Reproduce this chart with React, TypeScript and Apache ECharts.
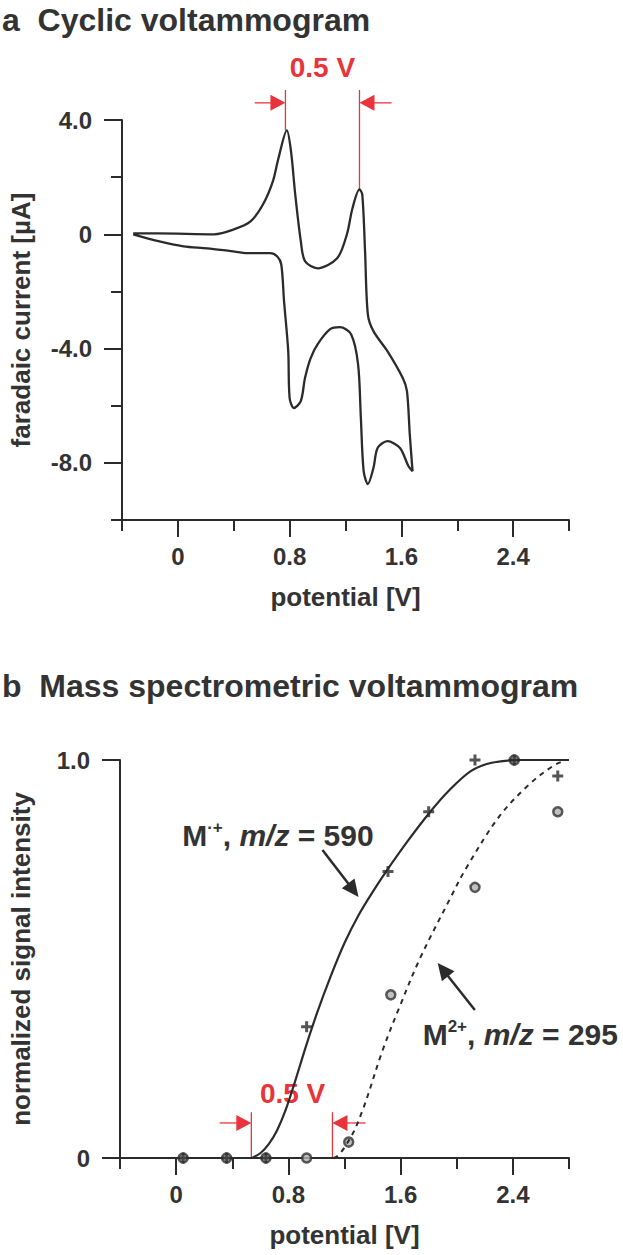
import React, { useEffect, useRef } from 'react';
import * as echarts from 'echarts';

// ---------- data ----------
// (a) cyclic voltammogram: potential [V] and faradaic current [µA], in scan order
const cvPotential = [-0.32, -0.14, 0.26, 0.40, 0.52, 0.61, 0.68, 0.72, 0.78, 0.81, 0.84, 0.88, 0.91, 1.00, 1.14, 1.21, 1.25, 1.30, 1.32, 1.34, 1.36, 1.40, 1.50, 1.61, 1.64, 1.66, 1.68, 1.65, 1.59, 1.50, 1.43, 1.40, 1.36, 1.33, 1.31, 1.29, 1.24, 1.16, 1.09, 1.00, 0.95, 0.91, 0.88, 0.83, 0.80, 0.79, 0.76, 0.74, 0.71, 0.66, 0.50, 0.38, 0.21, 0.04, -0.14, -0.32];
const cvCurrent = [0.03, 0.03, 0.0, 0.17, 0.45, 1.05, 1.85, 2.66, 3.64, 2.90, 1.40, -0.24, -0.94, -1.19, -0.84, 0.0, 0.91, 1.57, 1.40, -0.59, -2.80, -3.39, -4.09, -5.03, -5.49, -6.99, -8.29, -8.11, -7.48, -7.24, -7.48, -8.18, -8.74, -8.29, -6.43, -4.55, -3.50, -3.25, -3.32, -3.85, -4.34, -5.03, -5.84, -6.08, -5.73, -4.09, -2.34, -1.05, -0.77, -0.66, -0.66, -0.59, -0.49, -0.42, -0.24, 0.0];

// (b) mass spectrometric voltammogram: measured points
const m1Potential = [0.05, 0.36, 0.64, 0.93, 1.51, 1.80, 2.13, 2.41, 2.72];
const m1Intensity = [0, 0, 0, 0.33, 0.72, 0.87, 1.0, 1.0, 0.96];
const m2Potential = [0.05, 0.36, 0.64, 0.93, 1.23, 1.53, 2.13, 2.41, 2.72];
const m2Intensity = [0, 0, 0, 0, 0.04, 0.41, 0.68, 1.0, 0.87];

// (b) fitted curves
const fit1Potential = [0.54, 0.60, 0.66, 0.72, 0.78, 0.85, 0.92, 1.00, 1.10, 1.20, 1.30, 1.40, 1.507, 1.65, 1.80, 1.95, 2.10, 2.25, 2.45, 2.80];
const fit1Intensity = [0, 0.012, 0.035, 0.07, 0.12, 0.195, 0.275, 0.36, 0.455, 0.54, 0.61, 0.668, 0.725, 0.796, 0.865, 0.925, 0.972, 0.993, 1.0, 1.0];
const fit2Potential = [1.05, 1.114, 1.229, 1.329, 1.471, 1.593, 1.736, 1.95, 2.07, 2.307, 2.521, 2.686, 2.78];
const fit2Intensity = [0, 0, 0.043, 0.12, 0.27, 0.38, 0.50, 0.65, 0.73, 0.86, 0.94, 0.985, 1.0];

// axis ticks / labels
const xLabelValues = [0, 0.8, 1.6, 2.4];
const xMinorTicks = [-0.4, 0.4, 1.2, 2.0, 2.8];
const cvLabelValues = [4, 0, -4, -8];
const cvMinorTicks = [2, -2, -6, -10];
const msLabelValues = [0, 1];

// ---------- styles ----------
const FONT = '"Liberation Sans", Arial, Helvetica, sans-serif';
const TEXT = '#333333';
const LINE = '#2b2b2b';
const RED = '#e8343a';

const fmt = (v: number) => (v === 0 ? '0' : v.toFixed(1));
const zip = (a: number[], b: number[]) => a.map((v, i) => [v, b[i]]);

function arrow(from: number[], to: number[], color: string, headLen: number, headHalf: number, width: number) {
  const dx = to[0] - from[0];
  const dy = to[1] - from[1];
  const len = Math.hypot(dx, dy);
  const ux = dx / len;
  const uy = dy / len;
  const bx = to[0] - ux * headLen;
  const by = to[1] - uy * headLen;
  const nx = -uy;
  const ny = ux;
  return [
    { type: 'line', shape: { x1: from[0], y1: from[1], x2: bx + ux * 2, y2: by + uy * 2 }, style: { stroke: color, lineWidth: width } },
    {
      type: 'polygon',
      shape: { points: [[to[0], to[1]], [bx + nx * headHalf, by + ny * headHalf], [bx - nx * headHalf, by - ny * headHalf]] },
      style: { fill: color },
    },
  ];
}

function richLabel(text: string, p: number[]) {
  return {
    type: 'text',
    style: {
      text, x: p[0], y: p[1], verticalAlign: 'middle',
      rich: {
        n: { fontSize: 30, fontWeight: 'bold', fontFamily: FONT, fill: TEXT, lineHeight: 33 },
        i: { fontSize: 30, fontWeight: 'bold', fontStyle: 'italic', fontFamily: FONT, fill: TEXT, lineHeight: 33 },
        s: { fontSize: 17, fontWeight: 'bold', fontFamily: FONT, fill: TEXT, lineHeight: 19, verticalAlign: 'top' },
      },
    },
  };
}

export default function App() {
  const ref = useRef<HTMLDivElement>(null);
  useEffect(() => {
    document.body.style.margin = '0';
    const chart = echarts.init(ref.current as HTMLDivElement, null, { renderer: 'svg' });
    const labelStyle = { color: TEXT, fontSize: 24, fontWeight: 'bold', fontFamily: FONT };
    const nameStyle = { color: TEXT, fontSize: 26, fontWeight: 'bold', fontFamily: FONT };
    const axisLine = { show: true, onZero: false, lineStyle: { color: LINE, width: 2 } };
    const hiddenLine = { show: false, onZero: false };
    const tickLine = { color: LINE, width: 2 };

    const xMain = (gridIndex: number) => ({
      type: 'value', gridIndex, min: -0.4, max: 2.8, interval: 0.4, position: 'bottom',
      axisLine, splitLine: { show: false },
      axisTick: { show: true, length: 17, lineStyle: tickLine, customValues: xLabelValues },
      axisLabel: { ...labelStyle, margin: 24, customValues: xLabelValues, formatter: fmt },
      name: 'potential [V]', nameLocation: 'middle', nameGap: 64, nameTextStyle: nameStyle,
    });
    const xMinor = (gridIndex: number) => ({
      type: 'value', gridIndex, min: -0.4, max: 2.8, interval: 0.4, position: 'bottom',
      axisLine: hiddenLine, splitLine: { show: false }, axisLabel: { show: false },
      axisTick: { show: true, length: 11, lineStyle: tickLine, customValues: xMinorTicks },
    });

    chart.setOption({
      animation: false,
      grid: [
        { left: 120, top: 120, width: 449, height: 400 },
        { left: 120, top: 760, width: 449, height: 398 },
      ],
      xAxis: [xMain(0), xMinor(0), xMain(1), xMinor(1)],
      yAxis: [
        {
          type: 'value', gridIndex: 0, min: -10, max: 4, interval: 2, position: 'left',
          axisLine, splitLine: { show: false },
          axisTick: { show: true, length: 18, lineStyle: tickLine, customValues: cvLabelValues },
          axisLabel: { ...labelStyle, margin: 30, customValues: cvLabelValues, formatter: fmt },
          name: 'faradaic current [µA]', nameLocation: 'middle', nameRotate: 90, nameGap: 88, nameTextStyle: nameStyle,
        },
        {
          type: 'value', gridIndex: 0, min: -10, max: 4, interval: 2, position: 'left',
          axisLine: hiddenLine, splitLine: { show: false }, axisLabel: { show: false },
          axisTick: { show: true, length: 11, lineStyle: tickLine, customValues: cvMinorTicks },
        },
        {
          type: 'value', gridIndex: 1, min: 0, max: 1, interval: 1, position: 'left',
          axisLine, splitLine: { show: false },
          axisTick: { show: true, length: 18, lineStyle: tickLine, customValues: msLabelValues },
          axisLabel: { ...labelStyle, margin: 30, customValues: msLabelValues, formatter: fmt },
          name: 'normalized signal intensity', nameLocation: 'middle', nameRotate: 90, nameGap: 86, nameTextStyle: nameStyle,
        },
      ],
      series: [
        {
          name: 'CV', type: 'line', xAxisIndex: 0, yAxisIndex: 0, data: zip(cvPotential, cvCurrent),
          showSymbol: false, smooth: 0.3, lineStyle: { color: LINE, width: 2.3 },
        },
        {
          name: 'fit M+', type: 'line', xAxisIndex: 2, yAxisIndex: 2, data: zip(fit1Potential, fit1Intensity),
          showSymbol: false, smooth: 0.3, clip: false, lineStyle: { color: LINE, width: 2.2 },
        },
        {
          name: 'fit M2+', type: 'line', xAxisIndex: 2, yAxisIndex: 2, data: zip(fit2Potential, fit2Intensity),
          showSymbol: false, smooth: 0.35, clip: false, lineStyle: { color: LINE, width: 2, type: [5, 5] },
        },
        {
          name: 'M2+', type: 'scatter', xAxisIndex: 2, yAxisIndex: 2, data: zip(m2Potential, m2Intensity),
          symbol: 'circle', symbolSize: 9, clip: false,
          itemStyle: { color: '#b0b0b0', borderColor: '#333', borderWidth: 2.5 },
        },
        {
          name: 'M+', type: 'scatter', xAxisIndex: 2, yAxisIndex: 2, data: zip(m1Potential, m1Intensity),
          symbol: 'path://M4,0H7V4H11V7H7V11H4V7H0V4H4Z', symbolSize: 11, clip: false,
          itemStyle: { color: '#2b2b2b' },
        },
      ],
    });

    const pa = (v: number, i: number) => chart.convertToPixel({ xAxisIndex: 0, yAxisIndex: 0 }, [v, i]) as number[];
    const pb = (v: number, s: number) => chart.convertToPixel({ xAxisIndex: 2, yAxisIndex: 2 }, [v, s]) as number[];

    const redLine = (a: number[], b: number[]) => ({
      type: 'line', shape: { x1: a[0], y1: a[1], x2: b[0], y2: b[1] }, style: { stroke: RED, lineWidth: 1.3 },
    });

    // annotation anchors in data space
    const peak1 = [0.77, 3.64];
    const peak2 = [1.30, 1.57];
    const topY = 5.05;
    const arrowY = 4.6;
    const onset1 = 0.536;
    const onset2 = 1.114;
    const lineTopS = 0.115;
    const arrowS = 0.088;

    const redText = (p: number[]) => ({
      type: 'text', style: { text: '0.5 V', x: p[0], y: p[1], align: 'center', verticalAlign: 'middle', font: `bold 28px ${FONT}`, fill: RED },
    });

    const elements: any[] = [
      { type: 'text', style: { text: 'a  Cyclic voltammogram', x: 2, y: 20, verticalAlign: 'middle', font: `bold 32px ${FONT}`, fill: TEXT } },
      { type: 'text', style: { text: 'b  Mass spectrometric voltammogram', x: 2, y: 686, verticalAlign: 'middle', font: `bold 32px ${FONT}`, fill: TEXT } },
      // red annotation (a)
      redLine(pa(peak1[0], topY), pa(peak1[0], peak1[1])),
      redLine(pa(peak2[0], topY), pa(peak2[0], peak2[1])),
      ...arrow(pa(0.55, arrowY), pa(peak1[0], arrowY), RED, 15, 8, 1.3),
      ...arrow(pa(1.53, arrowY), pa(peak2[0], arrowY), RED, 15, 8, 1.3),
      redText(pa(1.035, 5.85)),
      // red annotation (b)
      redLine(pb(onset1, lineTopS), pb(onset1, 0)),
      redLine(pb(onset2, lineTopS), pb(onset2, 0)),
      ...arrow(pb(0.31, arrowS), pb(onset1, arrowS), RED, 15, 8, 1.3),
      ...arrow(pb(1.35, arrowS), pb(onset2, arrowS), RED, 15, 8, 1.3),
      redText(pb(0.83, 0.163)),
      // black label arrows
      ...arrow(pb(1.043, 0.774), pb(1.30, 0.656), LINE, 17, 8, 2.5),
      ...arrow(pb(2.129, 0.372), pb(1.864, 0.49), LINE, 17, 8, 2.5),
      richLabel('{n|M}{s|·+}{n|, }{i|m/z}{n| = 590}', pb(0.043, 0.81)),
      richLabel('{n|M}{s|2+}{n|, }{i|m/z}{n| = 295}', pb(1.757, 0.31)),
    ];

    chart.setOption({ graphic: { elements } });

    return () => {
      chart.dispose();
    };
  }, []);

  return <div ref={ref} style={{ width: 623, height: 1255 }} />;
}
